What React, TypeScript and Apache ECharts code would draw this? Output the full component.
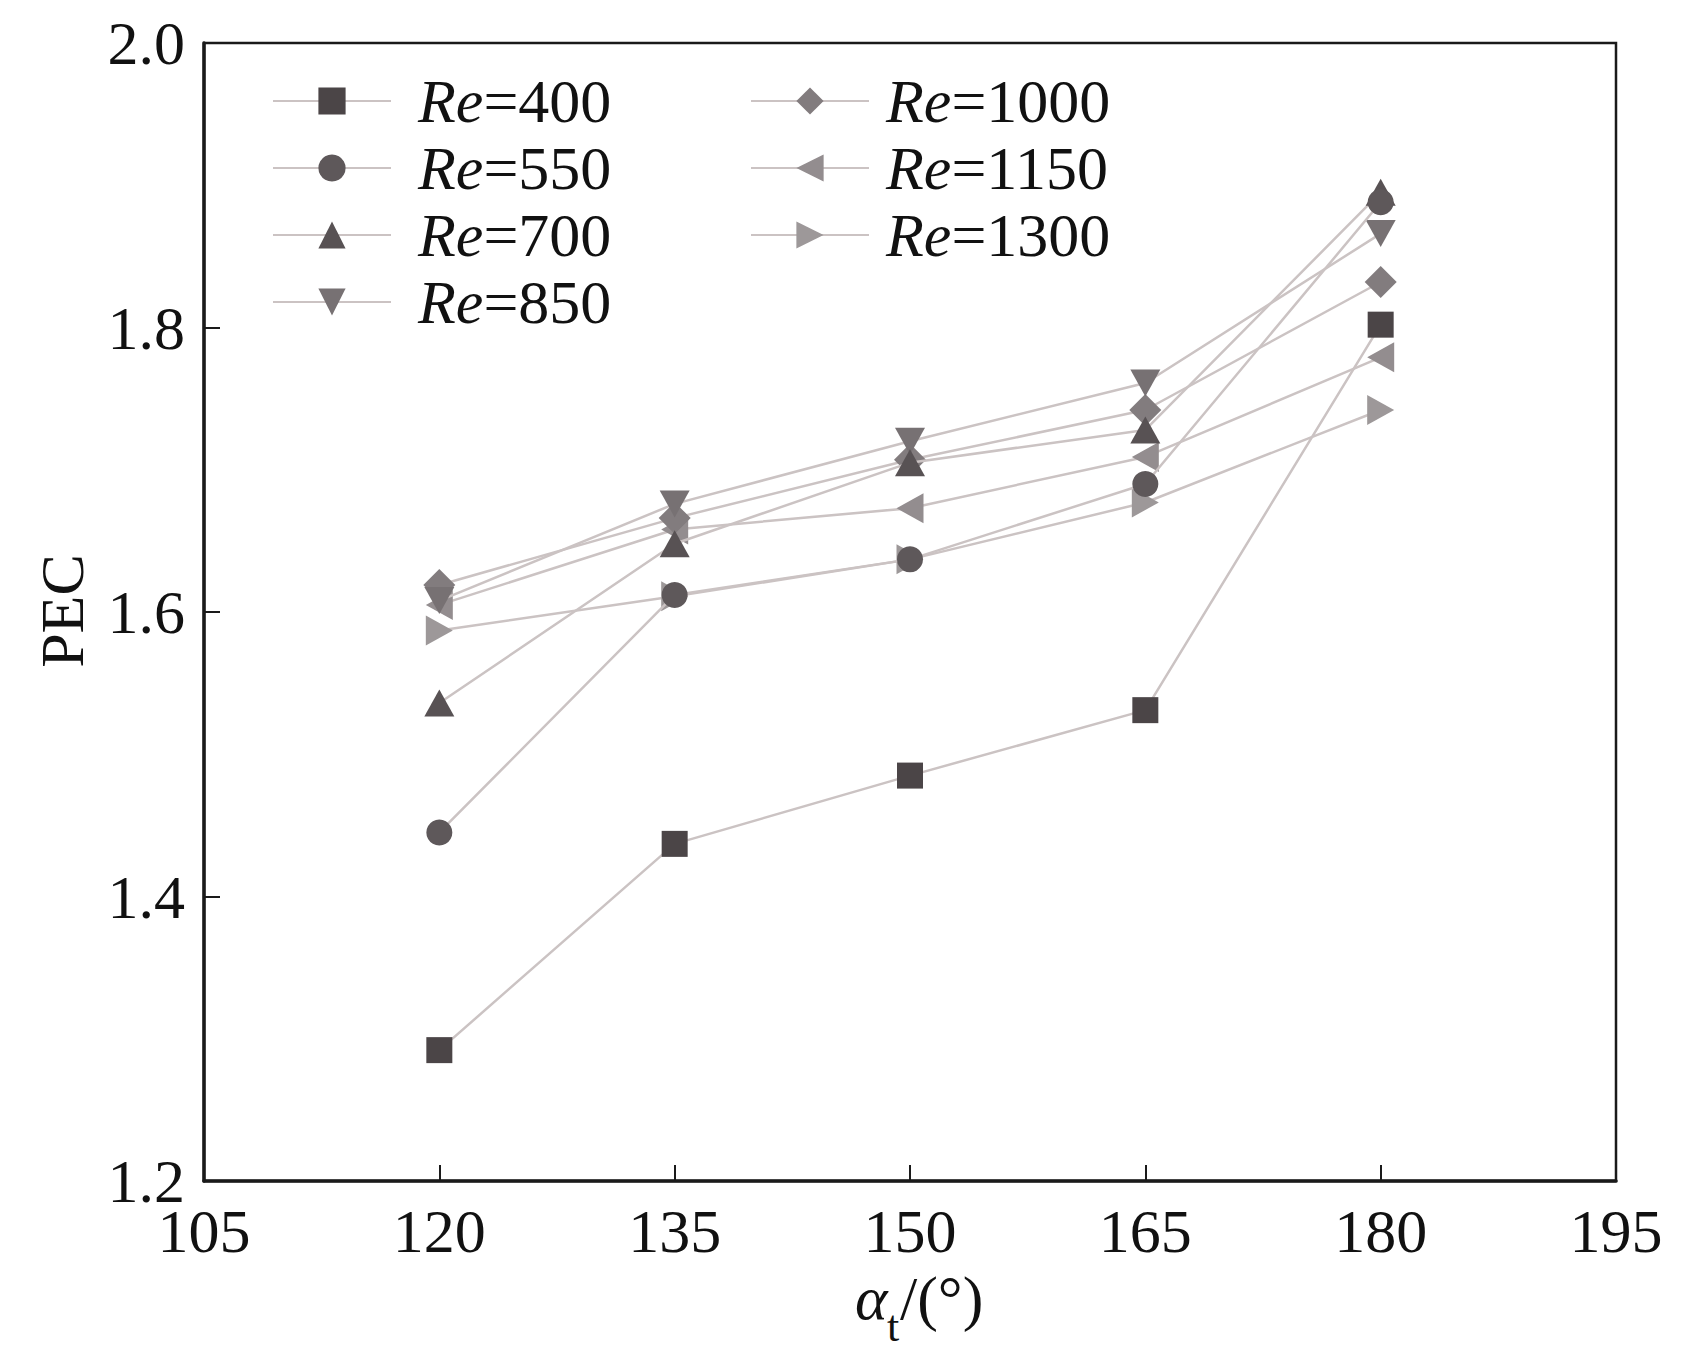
import React, { useEffect, useRef } from "react";
import * as echarts from "echarts";

const angles = [120, 135, 150, 165, 180];
const re400 = [1.292, 1.437, 1.485, 1.531, 1.802];
const re550 = [1.445, 1.612, 1.637, 1.690, 1.888];
const re700 = [1.536, 1.648, 1.705, 1.728, 1.895];
const re850 = [1.608, 1.676, 1.720, 1.761, 1.866];
const re1000 = [1.619, 1.666, 1.707, 1.742, 1.832];
const re1150 = [1.605, 1.658, 1.673, 1.709, 1.779];
const re1300 = [1.587, 1.611, 1.637, 1.677, 1.742];

const seriesNames = ["Re=400", "Re=550", "Re=700", "Re=850", "Re=1000", "Re=1150", "Re=1300"];
const seriesValues = [re400, re550, re700, re850, re1000, re1150, re1300];
const symbols = [
  "rect",
  "circle",
  "triangle",
  "path://M0,0 L10,0 L5,10 Z",
  "diamond",
  "path://M0,5 L10,0 L10,10 Z",
  "path://M10,5 L0,0 L0,10 Z",
];
const symbolSizes = [26, 26, [30, 27], [30, 27], 32, [27, 30], [27, 30]];
const symbolColors = ["#4b4547", "#5e585a", "#585254", "#777173", "#827c7e", "#938d8f", "#9d9899"];
const lineColor = "#cbc3c3";

const FONT = "'Liberation Serif', 'Times New Roman', Times, serif";

export default function App() {
  const ref = useRef<HTMLDivElement>(null);
  useEffect(() => {
    if (!ref.current) return;
    const chart = echarts.init(ref.current, undefined, { renderer: "svg" });
    const legendText = (pad: number) => ({
      fontFamily: FONT,
      fontSize: 62,
      color: "#111",
      rich: {
        i: { fontFamily: FONT, fontStyle: "italic", fontSize: 62, lineHeight: 62, color: "#111", padding: [0, 0, 0, pad] },
        n: { fontFamily: FONT, fontSize: 62, lineHeight: 62, color: "#111" },
      },
    });
    const fmt = (name: string) => `{i|Re}{n|${name.slice(2)}}`;
    const n = seriesNames.length;
    chart.setOption({
      animation: false,
      backgroundColor: "#ffffff",
      grid: {
        left: 204,
        right: 68,
        top: 43,
        bottom: 169,
        show: true,
        borderColor: "#1a1a1a",
        borderWidth: 2.5,
        backgroundColor: "transparent",
      },
      legend: [
        {
          data: seriesNames.slice(0, 4),
          orient: "vertical",
          left: 272,
          top: 70,
          padding: 0,
          itemGap: 5,
          itemWidth: 118,
          itemHeight: 34,
          formatter: fmt,
          textStyle: legendText(22),
        },
        {
          data: seriesNames.slice(4),
          orient: "vertical",
          left: 750,
          top: 70,
          padding: 0,
          itemGap: 5,
          itemWidth: 118,
          itemHeight: 34,
          formatter: fmt,
          textStyle: legendText(12),
        },
      ],
      xAxis: {
        type: "value",
        min: 105,
        max: 195,
        interval: 15,
        axisLine: { show: true, lineStyle: { color: "#1a1a1a", width: 3.5 } },
        axisTick: { show: true, inside: true, length: 16, lineStyle: { color: "#1a1a1a", width: 2 } },
        axisLabel: {
          margin: 28,
          fontFamily: FONT,
          fontSize: 62,
          lineHeight: 44,
          color: "#111",
          showMinLabel: true,
          showMaxLabel: true,
        },
        splitLine: { show: false },
      },
      yAxis: {
        type: "value",
        min: 1.2,
        max: 2.0,
        interval: 0.2,
        axisLine: { show: true, lineStyle: { color: "#1a1a1a", width: 3.5 } },
        axisTick: { show: true, inside: true, length: 16, lineStyle: { color: "#1a1a1a", width: 2 } },
        axisLabel: {
          margin: 19,
          fontFamily: FONT,
          fontSize: 62,
          lineHeight: 44,
          color: "#111",
          formatter: (v: number) => v.toFixed(1),
          showMinLabel: true,
          showMaxLabel: true,
        },
        splitLine: { show: false },
      },
      graphic: [
        {
          type: "text",
          x: 62,
          y: 611,
          rotation: Math.PI / 2,
          style: {
            text: "PEC",
            fontFamily: FONT,
            fontSize: 62,
            fill: "#111",
            align: "center",
            verticalAlign: "middle",
          },
        },
        {
          type: "text",
          x: 855,
          y: 1298,
          style: {
            text: "α",
            fontFamily: FONT,
            fontStyle: "italic",
            fontSize: 62,
            fill: "#111",
            align: "left",
            verticalAlign: "middle",
          },
        },
        {
          type: "text",
          x: 887,
          y: 1326,
          style: {
            text: "t",
            fontFamily: FONT,
            fontSize: 44,
            fill: "#111",
            align: "left",
            verticalAlign: "middle",
          },
        },
        {
          type: "text",
          x: 900,
          y: 1298,
          style: {
            text: "/(°)",
            fontFamily: FONT,
            fontSize: 62,
            fill: "#111",
            align: "left",
            verticalAlign: "middle",
          },
        },
      ],
      series: seriesNames.map((name, i) => ({
        name,
        type: "line",
        data: angles.map((a, j) => [a, seriesValues[i][j]]),
        symbol: symbols[i],
        symbolSize: symbolSizes[i],
        showSymbol: true,
        lineStyle: { color: lineColor, width: 2.5 },
        itemStyle: { color: symbolColors[i] },
        emphasis: { disabled: true },
        z: 2 + (n - i),
      })),
    });
    return () => chart.dispose();
  }, []);
  return (
    <div
      ref={ref}
      style={{ position: "absolute", left: 0, top: 0, width: 1684, height: 1350, background: "#fff" }}
    />
  );
}
